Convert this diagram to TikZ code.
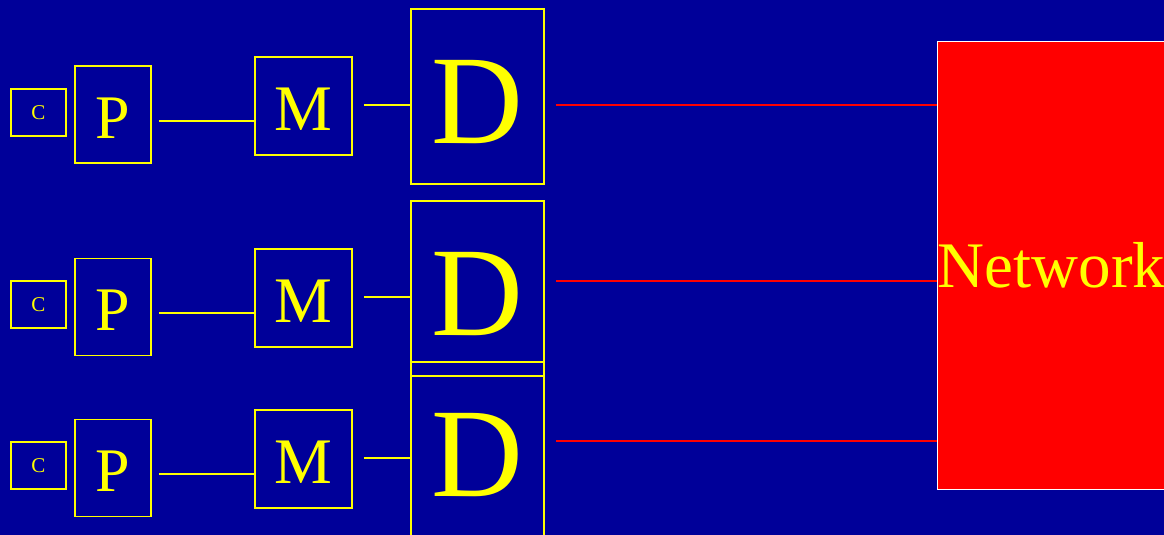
\documentclass[tikz,border=0pt]{standalone}
\usepackage{fontspec}
\setmainfont{Liberation Serif}
\definecolor{bgblue}{RGB}{0,0,153}
\definecolor{ylw}{RGB}{255,255,0}
\definecolor{netred}{RGB}{255,0,0}
\begin{document}
\begin{tikzpicture}[x=1pt,y=-1pt,
  box/.style={draw=ylw,line width=1.6pt,rectangle,inner sep=0pt,text=ylw},
  cbox/.style={box,minimum width=55pt,minimum height=47pt,font=\fontsize{21}{21}\selectfont},
  pbox/.style={box,minimum width=76pt,minimum height=97pt,font=\fontsize{62}{62}\selectfont,text height=47pt,text depth=0pt},
  mbox/.style={box,minimum width=97pt,minimum height=98pt,font=\fontsize{65}{65}\selectfont,text height=48pt,text depth=0pt},
  dbox/.style={box,minimum width=133pt,minimum height=175pt,font=\fontsize{127}{127}\selectfont,text height=93pt,text depth=0pt},
  netbox/.style={draw=white,fill=netred,line width=1.2pt,rectangle,inner sep=0pt,text=ylw,
    minimum width=225pt,minimum height=448pt,font=\fontsize{65}{65}\selectfont},
  yline/.style={draw=ylw,line width=1.6pt},
  rline/.style={draw=netred,line width=1.6pt}]
\useasboundingbox (0,0) rectangle (1164,535);
\fill[bgblue] (0,0) rectangle (1164,535);
% network
\node[netbox] (N) at (1051.5,265.25) {Network};
% row 1
\node[cbox] (C1) at (38.5,112.5) {C};
\node[pbox] (P1) at (113,114.5) {P};
\node[mbox] (M1) at (303.5,106) {M};
\node[dbox] (D1) at (477.5,96.5) {D};
% row 2
\node[cbox] (C2) at (38.5,304.5) {C};
\node[pbox] (P2) at (113,307) {P};
\node[mbox] (M2) at (303.5,298) {M};
\node[dbox] (D2) at (477.5,288.5) {D};
% row 3
\node[cbox] (C3) at (38.5,465.5) {C};
\node[pbox] (P3) at (113,468) {P};
\node[mbox] (M3) at (303.5,459) {M};
\node[dbox] (D3) at (477.5,449.5) {D};
% connector heights
\coordinate (a1) at (0,121); \coordinate (b1) at (0,105); \coordinate (n1) at (0,105);
\coordinate (a2) at (0,313); \coordinate (b2) at (0,297); \coordinate (n2) at (0,281);
\coordinate (a3) at (0,474); \coordinate (b3) at (0,458); \coordinate (n3) at (0,441);
\foreach \i in {1,2,3}{
  \draw[yline,shorten <=7pt] (P\i.east |- a\i) -- (M\i.west |- a\i);
  \draw[yline,shorten <=11pt] (M\i.east |- b\i) -- (D\i.west |- b\i);
  \draw[rline,shorten <=11pt] (D\i.east |- n\i) -- (N.west |- n\i);
}
\end{tikzpicture}
\end{document}
